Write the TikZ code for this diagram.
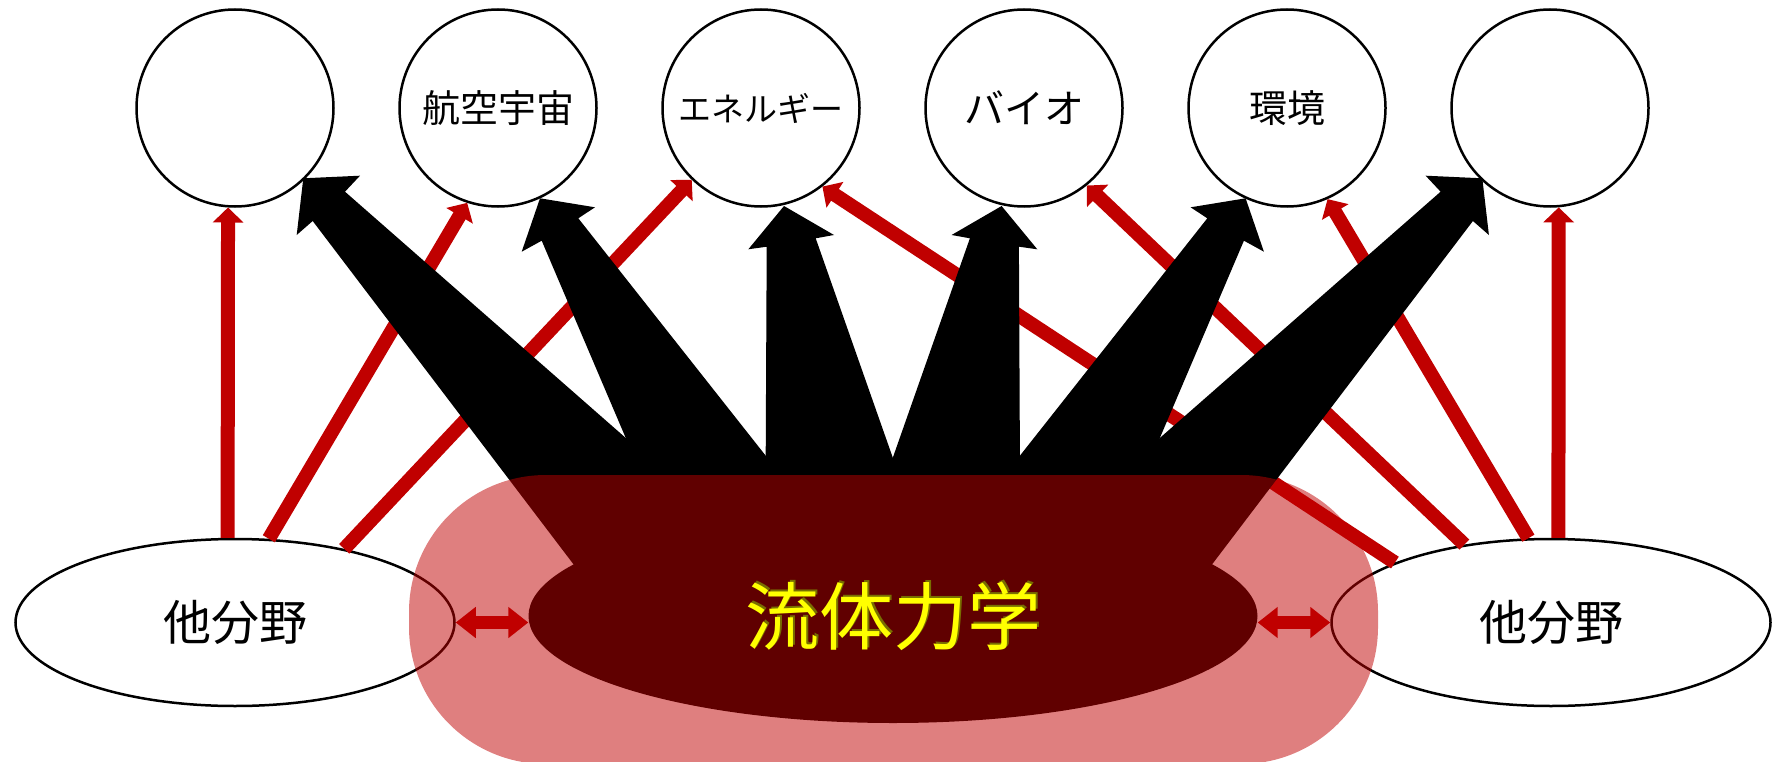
\documentclass[tikz,border=0pt]{standalone}
\usepackage{fontspec}
\newfontfamily\jp{Noto Sans CJK JP}
\usetikzlibrary{shapes.geometric,arrows.meta}
\definecolor{pptred}{RGB}{192,0,0}
\definecolor{coreyellow}{RGB}{255,255,0}
\definecolor{shadowyellow}{RGB}{120,110,0}
\begin{document}
\begin{tikzpicture}[x=1pt,y=-1pt,
  topic/.style={circle,draw=black,line width=2.5pt,fill=white,minimum size=197pt,inner sep=0pt,font=\jp\fontsize{38}{42}\selectfont},
  other/.style={ellipse,draw=black,line width=2.5pt,fill=white,minimum width=439pt,minimum height=167pt,inner sep=0pt,font=\jp\fontsize{48}{52}\selectfont},
  core/.style={ellipse,fill=black,minimum width=729pt,minimum height=214pt,inner sep=0pt},
  link/.style={pptred,line width=14pt,-{Triangle[length=15pt,width=30pt]}},
  bothway/.style={pptred,line width=13pt,{Triangle[length=20pt,width=30pt]}-{Triangle[length=20pt,width=30pt]}},
  fat/.style={fill=black},
  halo/.style={fill=pptred,fill opacity=0.5,rounded corners=137pt},
  coretext/.style={font=\jp\fontsize{74}{80}\selectfont,inner sep=0pt}
]
\useasboundingbox (0,0) rectangle (1774,762);

% top circles
\node[topic] (c1) at (235,108) {};
\node[topic] (c2) at (498,108) {航空宇宙};
\node[topic] (c3) at (761,108) {\fontsize{33}{36}\selectfont エネルギー};
\node[topic] (c4) at (1024,108) {\fontsize{40}{44}\selectfont バイオ};
\node[topic] (c5) at (1287,108) {環境};
\node[topic] (c6) at (1550,108) {};

% other fields
\node[other] (L) at (235,622.5) {他分野};
\node[other] (R) at (1551,622.5) {他分野};

% red links
\draw[link] (L.95.5) -- (c1.-94.7);
\draw[link] (L.68.8) -- (c2.-108.8);
\draw[link] (L.34.3) -- (c3.-134);
\draw[link] (R.85.2) -- (c6.-85.7);
\draw[link] (R.105.9) -- (c5.-66.3);
\draw[link] (R.138) -- (c4.-51.6);
\draw[link] (R.159.7) -- (c3.-52);

% core and fat arrows
\node[core] (F) at (893,616) {};
\fill[fat] (600.6,600) -- (312.7,221) -- (296.7,235) -- (303.3,178.3) -- (360,175.7) -- (345,191.7) -- (810.5,600) -- cycle;
\fill[fat] (694.8,600) -- (541.7,240.7) -- (521.7,251.7) -- (540,198.3) -- (595,207.3) -- (578.3,218.3) -- (879.6,600) -- cycle;
\fill[fat] (765,600) -- (766.7,246.7) -- (748.3,249.3) -- (784,206) -- (834,235) -- (815.7,238.3) -- (942.8,600) -- cycle;
\begin{scope}[xshift=1785.6pt,xscale=-1]
\fill[fat] (600.6,600) -- (312.7,221) -- (296.7,235) -- (303.3,178.3) -- (360,175.7) -- (345,191.7) -- (810.5,600) -- cycle;
\fill[fat] (694.8,600) -- (541.7,240.7) -- (521.7,251.7) -- (540,198.3) -- (595,207.3) -- (578.3,218.3) -- (879.6,600) -- cycle;
\fill[fat] (765,600) -- (766.7,246.7) -- (748.3,249.3) -- (784,206) -- (834,235) -- (815.7,238.3) -- (942.8,600) -- cycle;
\end{scope}

% translucent halo
\fill[halo] (409,475) rectangle (1378,764);

% exchanges
\draw[bothway] (L.east) -- (L.east -| F.west);
\draw[bothway] (R.west) -- (R.west -| F.east);

% core label
\node[coretext,text=shadowyellow] at ([xshift=2pt,yshift=2pt]F.center) {流体力学};
\node[coretext,text=coreyellow] (Ft) at (F.center) {流体力学};
\end{tikzpicture}
\end{document}
